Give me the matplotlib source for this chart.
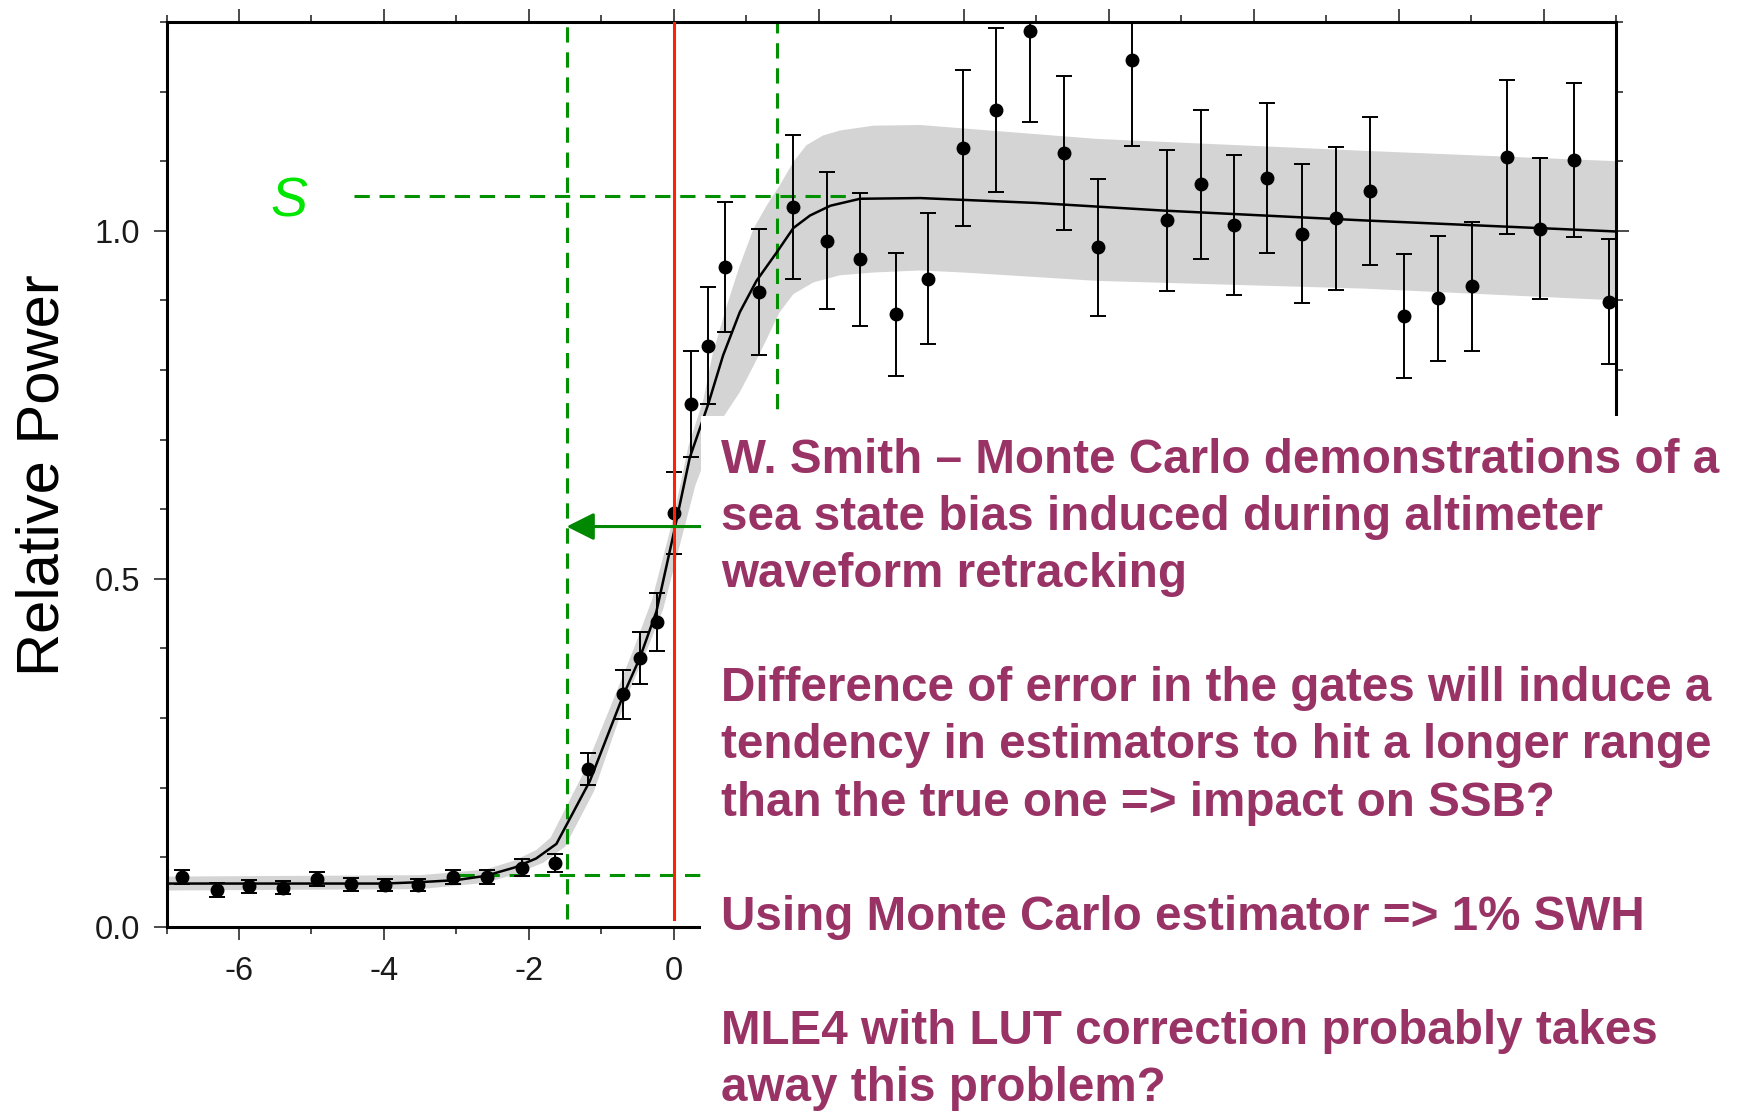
import matplotlib.pyplot as plt
from matplotlib.patches import Rectangle
from matplotlib.ticker import MultipleLocator

plt.rcParams['font.family'] = ['Liberation Sans', 'DejaVu Sans']
plt.rcParams['axes.unicode_minus'] = False

# simulated waveform gates: range offset, relative power, 1-sigma error
gate_x = [-6.79, -6.31, -5.86, -5.39, -4.93, -4.46, -3.99, -3.53, -3.05, -2.58,
          -2.10, -1.64, -1.18, -0.70, -0.47, -0.235, 0.0, 0.232, 0.475, 0.705,
          1.17, 1.645, 2.11, 2.575, 3.06, 3.51, 3.99, 4.45, 4.91, 5.38,
          5.85, 6.32, 6.80, 7.27, 7.73, 8.19, 8.67, 9.14, 9.61, 10.08,
          10.54, 11.01, 11.49, 11.95, 12.42, 12.90]
power = [0.072, 0.053, 0.058, 0.056, 0.068, 0.061, 0.060, 0.060, 0.071, 0.071,
         0.085, 0.091, 0.227, 0.334, 0.386, 0.438, 0.594, 0.751, 0.835, 0.948,
         0.912, 1.034, 0.986, 0.959, 0.880, 0.931, 1.119, 1.174, 1.287, 1.112,
         0.976, 1.246, 1.015, 1.067, 1.008, 1.076, 0.996, 1.018, 1.057, 0.878,
         0.903, 0.920, 1.106, 1.003, 1.102, 0.898]
power_err = [0.010, 0.010, 0.009, 0.009, 0.010, 0.009, 0.009, 0.009, 0.010, 0.010,
             0.012, 0.013, 0.023, 0.035, 0.037, 0.042, 0.059, 0.076, 0.084, 0.094,
             0.091, 0.103, 0.099, 0.096, 0.088, 0.094, 0.112, 0.118, 0.130, 0.111,
             0.098, 0.124, 0.101, 0.107, 0.101, 0.108, 0.100, 0.103, 0.106, 0.089,
             0.090, 0.093, 0.111, 0.101, 0.111, 0.090]

# model waveform
model_x = [-7.0, -4.0, -3.5, -3.0, -2.6, -2.2, -1.9, -1.62, -1.16, -0.70,
           -0.47, -0.24, 0.0, 0.22, 0.475, 0.68, 0.91, 1.14, 1.42, 1.65,
           1.88, 2.16, 2.57, 3.4, 5.0, 6.76, 9.5, 13.0]
model_y = [0.062, 0.062, 0.064, 0.067, 0.073, 0.085, 0.098, 0.119, 0.209, 0.332,
           0.386, 0.453, 0.566, 0.674, 0.751, 0.821, 0.883, 0.928, 0.969, 1.004,
           1.022, 1.036, 1.046, 1.047, 1.040, 1.029, 1.015, 0.999]

# grey spread band: upper/left edge and lower/right edge
band_up_x = [-7.0, -3.5, -2.6, -2.2, -1.9, -1.7, -1.25, -0.8, -0.55, -0.3,
             0.0, 0.2, 0.41, 0.54, 0.73, 0.91, 1.10, 1.28, 1.46, 1.65,
             1.83, 2.06, 2.29, 2.75, 3.4, 4.0, 5.84, 9.5, 13.0]
band_up_y = [0.072, 0.074, 0.082, 0.095, 0.110, 0.128, 0.220, 0.335, 0.400, 0.470,
             0.590, 0.690, 0.758, 0.825, 0.892, 0.950, 1.003, 1.036, 1.065, 1.099,
             1.123, 1.137, 1.144, 1.151, 1.152, 1.147, 1.132, 1.115, 1.100]
band_lo_x = [-7.0, -3.5, -2.6, -2.2, -1.8, -1.5, -1.1, -0.65, -0.4, -0.15,
             0.1, 0.3, 0.5, 0.7, 0.91, 1.10, 1.28, 1.46, 1.65, 1.93,
             2.29, 2.75, 3.4, 4.0, 5.84, 9.5, 13.0]
band_lo_y = [0.052, 0.054, 0.063, 0.075, 0.092, 0.115, 0.195, 0.330, 0.390, 0.455,
             0.555, 0.635, 0.690, 0.735, 0.768, 0.806, 0.844, 0.883, 0.909, 0.926,
             0.936, 0.940, 0.943, 0.940, 0.928, 0.917, 0.900]

# reference markers
true_epoch = 0.0
left_gate = -1.48
right_gate = 1.42
s_level = 1.05
noise_level = 0.075
arrow_y = 0.575

notes = ["W. Smith \u2013 Monte Carlo demonstrations of a",
         "sea state bias induced during altimeter",
         "waveform retracking",
         "",
         "Difference of error in the gates will induce a",
         "tendency in estimators to hit a longer range",
         "than the true one => impact on SSB?",
         "",
         "Using Monte Carlo estimator => 1% SWH",
         "",
         "MLE4 with LUT correction probably takes",
         "away this problem?"]

W, H = 1738, 1114
fig = plt.figure(figsize=(W / 100, H / 100), dpi=100)
ax = fig.add_axes([166.5 / W, 1 - 926.7 / H, 1449.5 / W, 904.7 / H])

green = '#009000'
ax.fill(band_up_x + band_lo_x[::-1], band_up_y + band_lo_y[::-1],
        color='#d4d4d4', lw=0, zorder=1)

dash = (0, (5.0, 3.2))
ax.plot([left_gate, left_gate], [0.011, 1.3], color=green, lw=2.2, ls=dash, zorder=2)
ax.plot([right_gate, right_gate], [0.6, 1.3], color=green, lw=2.2, ls=dash, zorder=2)
ax.plot([-4.41, 2.48], [s_level, s_level], color=green, lw=2.2, ls=dash, zorder=2)
ax.plot([-2.97, 1.0], [noise_level, noise_level], color=green, lw=2.2, ls=dash, zorder=2)

ax.plot(model_x, model_y, color='black', lw=1.8, zorder=3)
ax.errorbar(gate_x, power, yerr=power_err, fmt='o', color='black', ms=9,
            elinewidth=1.4, capsize=5.8, capthick=1.4, zorder=4)

ax.plot([true_epoch, true_epoch], [0.011, 1.3], color='#ff2200', lw=2.2, zorder=5)
ax.annotate('', xy=(left_gate, arrow_y), xytext=(0.6, arrow_y),
            arrowprops=dict(arrowstyle='-|>', color='#008800', lw=2.2,
                            mutation_scale=42, shrinkA=0, shrinkB=0),
            zorder=5)
ax.text(-5.31, 1.04, 'S', color='#00e600', fontsize=40, style='italic',
        ha='center', va='center')

ax.set_xlim(-7, 13)
ax.set_ylim(0, 1.3)
ax.xaxis.set_major_locator(MultipleLocator(2))
ax.xaxis.set_minor_locator(MultipleLocator(1))
ax.yaxis.set_major_locator(MultipleLocator(0.5))
ax.yaxis.set_minor_locator(MultipleLocator(0.1))
ax.tick_params(which='both', direction='out', top=True, right=True,
               labeltop=False, labelright=False, width=1.1, colors='#1a1a1a')
ax.tick_params(which='major', length=9.4, labelsize=23.5)
ax.tick_params(axis='x', which='major', pad=11.5)
ax.tick_params(axis='y', which='major', pad=9.5)
ax.tick_params(which='minor', length=4.8)
for s in ax.spines.values():
    s.set_linewidth(2.2)

fig.text(43.5 / W, 1 - 475 / H, 'Relative Power', rotation=90, fontsize=43,
         ha='center', va='center')

# white panel with the notes, laid over the right part of the plot
fig.add_artist(Rectangle((701 / W, 0), 1 - 701 / W, 1 - 416 / H,
                         transform=fig.transFigure, facecolor='white',
                         edgecolor='none', zorder=10))
for i, line in enumerate(notes):
    fig.text(721 / W, 1 - (473.0 + i * 57.1) / H, line, fontsize=34.3,
             fontweight='bold', color='#993366', ha='left', va='baseline',
             zorder=11)

fig.savefig('out.png', dpi=100)
